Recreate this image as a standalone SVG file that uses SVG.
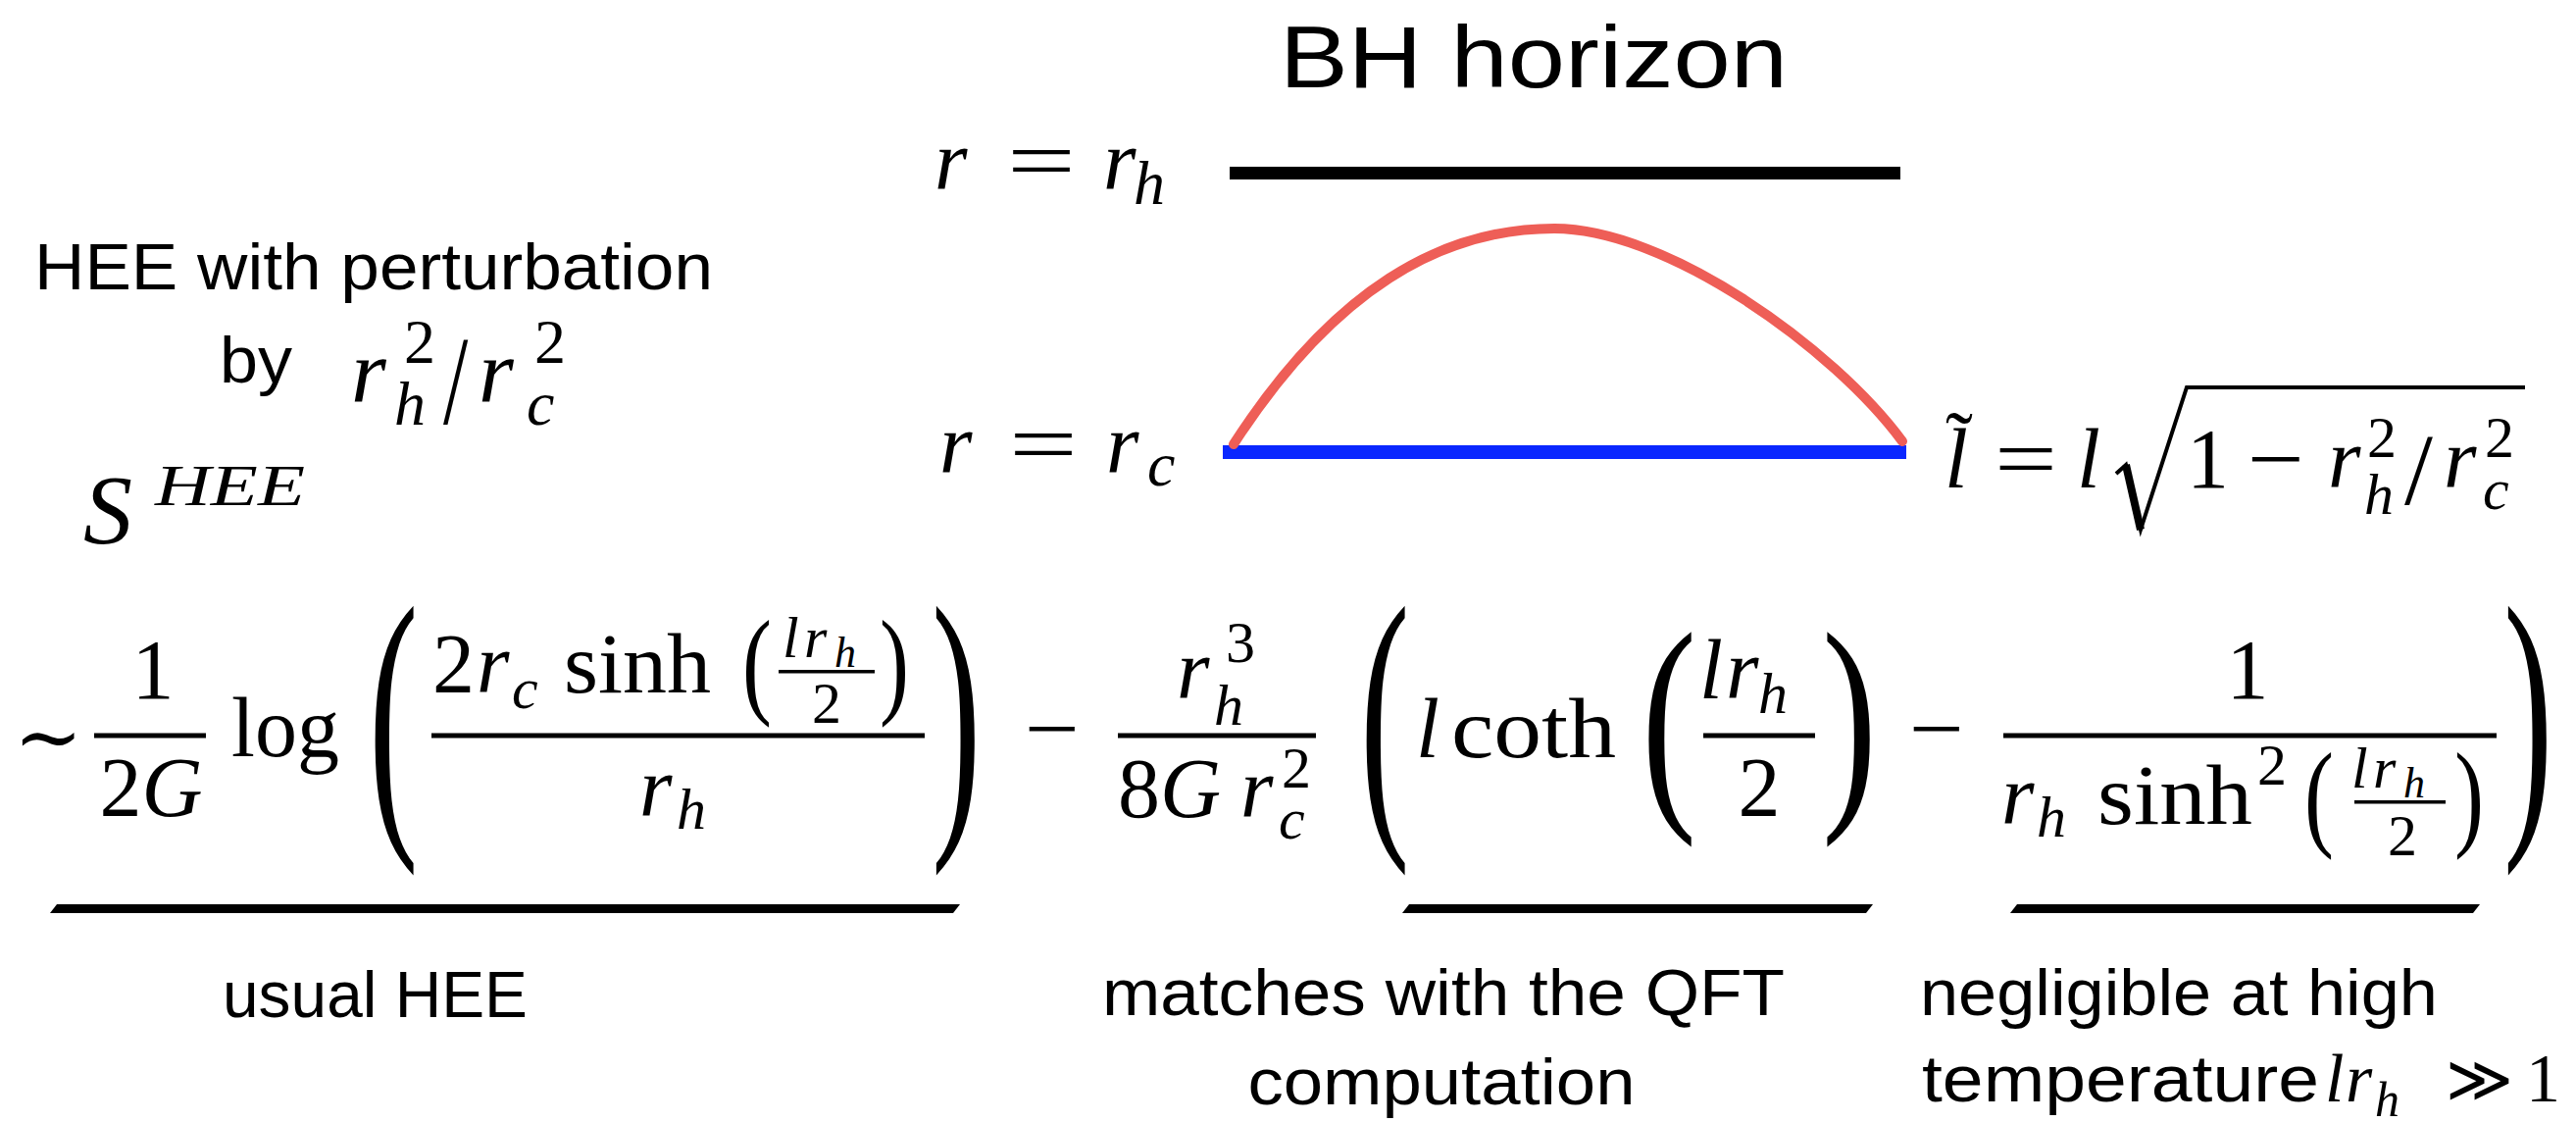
<svg xmlns="http://www.w3.org/2000/svg" width="2627" height="1144" viewBox="0 0 2627 1144">
<style>
.i{font-family:"Liberation Serif","DejaVu Serif",serif;font-style:italic;fill:#000}
.n{font-family:"Liberation Serif","DejaVu Serif",serif;font-style:normal;fill:#000}
.d{font-family:"DejaVu Serif","Liberation Serif",serif;font-style:normal;fill:#000}
.s{font-family:"Liberation Sans",Arial,sans-serif;fill:#000}
.L{font-size:86px}
.M{font-size:60px}
.S{font-size:44px}
.t{font-size:66px}
.P{font-size:64px}
.Q{font-size:92px}
.rule{fill:#000}
</style>
<rect width="2627" height="1144" fill="#fff"/>

<g id="title">
<text class="s" x="1305" y="89" font-size="89" textLength="518" lengthAdjust="spacingAndGlyphs">BH horizon</text>
</g>

<g id="horizon">
<text class="i L" x="953" y="193">r</text>
<text class="n L" x="1027" y="193" textLength="70" lengthAdjust="spacingAndGlyphs">=</text>
<text class="i L"><tspan x="1125" y="193">r</tspan><tspan class="P" x="1156" y="208">h</tspan></text>
<rect class="rule" x="1254" y="170" width="684" height="13"/>
</g>

<g id="cutoff">
<text class="i L" x="958" y="482">r</text>
<text class="n L" x="1029" y="482" textLength="70" lengthAdjust="spacingAndGlyphs">=</text>
<text class="i L"><tspan x="1128" y="482">r</tspan><tspan class="P" x="1170" y="495">c</tspan></text>
<rect x="1247" y="454" width="697" height="14" fill="#0A27FF"/>
</g>

<g id="rt-surface">
<path d="M1258,453 C1360,295 1470,233 1585,233 C1700,233 1870,355 1940,450" fill="none" stroke="#EE5E57" stroke-width="10" stroke-linecap="round"/>
</g>

<g id="length-formula">
<text class="i L"><tspan class="n" style="font-size:84px" x="1984" y="478">˜</tspan><tspan x="1983" y="497">l</tspan></text>
<text class="n L" x="2034" y="497" textLength="64" lengthAdjust="spacingAndGlyphs">=</text>
<text class="i L" x="2118" y="497">l</text>
<path d="M2158,483 L2168,474 L2183,540 L2230,395 L2575,395" fill="none" stroke="#000" stroke-width="4" stroke-linejoin="miter"/>
<path d="M2168,474 L2183,540" fill="none" stroke="#000" stroke-width="8"/>
<text class="n L" x="2230" y="497">1</text>
<text class="n L" x="2292" y="497" textLength="58" lengthAdjust="spacingAndGlyphs">−</text>
<text class="i L"><tspan x="2374" y="497">r</tspan><tspan class="n M" x="2414" y="466">2</tspan><tspan class="M" x="2411" y="524">h</tspan><tspan class="n" style="font-size:104px" x="2452" y="514">/</tspan><tspan x="2492" y="497">r</tspan><tspan class="n M" x="2534" y="466">2</tspan><tspan class="M" x="2532" y="519">c</tspan></text>
</g>

<g id="perturbation-label">
<text class="s t" x="35" y="295" textLength="692" lengthAdjust="spacingAndGlyphs">HEE with perturbation</text>
<text class="s t" x="224" y="390" textLength="74" lengthAdjust="spacingAndGlyphs">by</text>
<text class="i Q"><tspan x="358" y="409">r</tspan><tspan class="n P" x="412" y="370">2</tspan><tspan class="P" x="402" y="433">h</tspan><tspan x="488" y="409">r</tspan><tspan class="n P" x="545" y="370">2</tspan><tspan class="P" x="537" y="433">c</tspan></text>
<text class="n" style="font-size:130px" transform="translate(452,432) scale(0.7,1)">/</text>
</g>

<g id="entropy-symbol">
<text class="i" style="font-size:100px" x="85" y="553">S</text>
<text class="i M" x="158" y="515" textLength="153" lengthAdjust="spacingAndGlyphs">HEE</text>
</g>

<g id="main-equation">
<text class="d" style="font-size:84px" x="14" y="780">∼</text>
<text class="n L" x="156" y="712" text-anchor="middle">1</text>
<rect class="rule" x="96" y="747.5" width="114" height="5"/>
<text class="L" x="154" y="832" text-anchor="middle"><tspan class="n">2</tspan><tspan class="i">G</tspan></text>
<text class="n L" x="236" y="771">log</text>
<text class="n" style="font-size:303px" transform="translate(376,828) scale(0.5,1)">(</text>
<text class="n L" x="441" y="706">2</text>
<text class="i L"><tspan x="486" y="706">r</tspan><tspan class="M" x="522" y="722">c</tspan></text>
<text class="n L" x="575" y="706" textLength="150" lengthAdjust="spacingAndGlyphs">sinh</text>
<text class="n" style="font-size:120px" transform="translate(757,716) scale(0.75,1)">(</text>
<text class="i M"><tspan x="798" y="670">l</tspan><tspan x="820" y="670">r</tspan><tspan class="S" x="851" y="680">h</tspan></text>
<rect class="rule" x="794" y="683" width="98" height="3.5"/>
<text class="n M" x="843" y="737" text-anchor="middle">2</text>
<text class="n" style="font-size:120px" transform="translate(897,716) scale(0.75,1)">)</text>
<rect class="rule" x="440" y="747.5" width="503" height="5"/>
<text class="i L"><tspan x="652" y="832">r</tspan><tspan class="M" x="690" y="845">h</tspan></text>
<text class="n" style="font-size:303px" transform="translate(950,828) scale(0.5,1)">)</text>

<text class="n L" x="1045" y="772" textLength="56" lengthAdjust="spacingAndGlyphs">−</text>
<text class="i L"><tspan x="1200" y="712">r</tspan><tspan class="n M" x="1250" y="675">3</tspan><tspan class="M" x="1238" y="739">h</tspan></text>
<rect class="rule" x="1140" y="747.5" width="202" height="5"/>
<text class="L"><tspan class="n" x="1140" y="833">8</tspan><tspan class="i">G</tspan><tspan class="i" x="1265" y="833">r</tspan><tspan class="n M" x="1307" y="803">2</tspan><tspan class="i M" x="1304" y="855">c</tspan></text>

<text class="n" style="font-size:303px" transform="translate(1387,828) scale(0.5,1)">(</text>
<text class="i L" x="1444" y="772">l</text>
<text class="n L" x="1480" y="772" textLength="168" lengthAdjust="spacingAndGlyphs">coth</text>
<text class="n" style="font-size:241px" transform="translate(1674,812) scale(0.7,1)">(</text>
<text class="i L"><tspan x="1733" y="712">l</tspan><tspan x="1760" y="712">r</tspan><tspan class="M" x="1793" y="727">h</tspan></text>
<rect class="rule" x="1737" y="747.5" width="114" height="5"/>
<text class="n L" x="1794" y="832" text-anchor="middle">2</text>
<text class="n" style="font-size:241px" transform="translate(1858,812) scale(0.7,1)">)</text>

<text class="n L" x="1947" y="772" textLength="56" lengthAdjust="spacingAndGlyphs">−</text>
<text class="n L" x="2292" y="712" text-anchor="middle">1</text>
<rect class="rule" x="2043" y="747.5" width="503" height="5"/>
<text class="i L"><tspan x="2041" y="840">r</tspan><tspan class="M" x="2077" y="853">h</tspan></text>
<text class="n L" x="2139" y="840" textLength="158" lengthAdjust="spacingAndGlyphs">sinh</text>
<text class="n M" x="2302" y="800">2</text>
<text class="n" style="font-size:120px" transform="translate(2350,851) scale(0.75,1)">(</text>
<text class="i M"><tspan x="2398" y="803">l</tspan><tspan x="2420" y="803">r</tspan><tspan class="S" x="2451" y="813">h</tspan></text>
<rect class="rule" x="2401" y="816" width="93" height="3.5"/>
<text class="n M" x="2450" y="872" text-anchor="middle">2</text>
<text class="n" style="font-size:120px" transform="translate(2503,851) scale(0.75,1)">)</text>
<text class="n" style="font-size:303px" transform="translate(2553,828) scale(0.5,1)">)</text>
</g>

<g id="underlines">
<polygon class="rule" points="58,922 979,922 972,931 51,931"/>
<polygon class="rule" points="1437,922 1910,922 1903,931 1430,931"/>
<polygon class="rule" points="2057,922 2529,922 2522,931 2050,931"/>
</g>

<g id="annotations">
<text class="s t" x="227" y="1037" textLength="311" lengthAdjust="spacingAndGlyphs">usual HEE</text>
<text class="s t" x="1472" y="1035" text-anchor="middle" textLength="696" lengthAdjust="spacingAndGlyphs">matches with the QFT</text>
<text class="s t" x="1470" y="1126" text-anchor="middle" textLength="395" lengthAdjust="spacingAndGlyphs">computation</text>
<text class="s t" x="1958" y="1035" textLength="528" lengthAdjust="spacingAndGlyphs">negligible at high</text>
<text class="s t" x="1960" y="1123" textLength="405" lengthAdjust="spacingAndGlyphs">temperature</text>
<text class="i" style="font-size:70px"><tspan x="2371" y="1123">l</tspan><tspan x="2392" y="1123">r</tspan><tspan style="font-size:50px" x="2422" y="1138">h</tspan></text>
<text class="d" style="font-size:66px" x="2494" y="1123">≫</text>
<text class="n" style="font-size:70px" x="2576" y="1123">1</text>
</g>
</svg>
